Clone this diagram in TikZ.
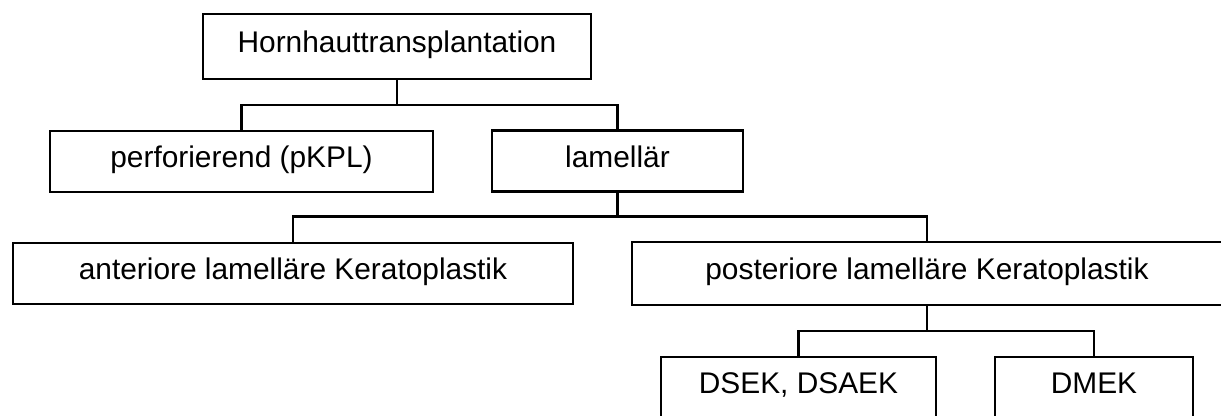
\documentclass[tikz,border=0pt]{standalone}
\usepackage{fontspec}
\setmainfont{Liberation Sans}
\usepackage{tikz}

\begin{document}
\begin{tikzpicture}[x=0.02cm,y=-0.02cm,line width=1.3pt,
  font=\fontsize{17}{20}\selectfont,
  box/.style={draw,rectangle,inner sep=0pt,text height=0.716em,text depth=0pt,minimum height=1.22cm}]
\clip (0,0) rectangle (1221,416);
% boxes
\node[box,minimum width=7.76cm,minimum height=1.30cm] (root) at (397,46.5) {Hornhauttransplantation};
\node[box,minimum width=7.66cm] (perf) at (241.5,161.5) {perforierend (pKPL)};
\node[box,minimum width=5.02cm] (lam) at (617.5,161) {lamellär};
\node[box,minimum width=11.2cm] (ant) at (293,273.5) {anteriore lamelläre Keratoplastik};
\node[box,minimum width=11.8cm,minimum height=1.26cm] (post) at (927,273.5) {posteriore lamelläre Keratoplastik};
\node[box,minimum width=5.5cm] (dsek) at (798.5,387.5) {DSEK, DSAEK};
\node[box,minimum width=3.96cm] (dmek) at (1094,387.5) {DMEK};
% connectors
\coordinate (j1) at (root.south |- 0,105);
\coordinate (j2) at (lam.south |- 0,216.5);
\coordinate (j3) at (post.south |- 0,331);
\draw (root.south) -- (j1);
\draw (perf.north) |- (j1) -| (lam.north);
\draw (lam.south) -- (j2);
\draw (ant.north) |- (j2) -| (post.north);
\draw (post.south) -- (j3);
\draw (dsek.north) |- (j3) -| (dmek.north);
\end{tikzpicture}
\end{document}
